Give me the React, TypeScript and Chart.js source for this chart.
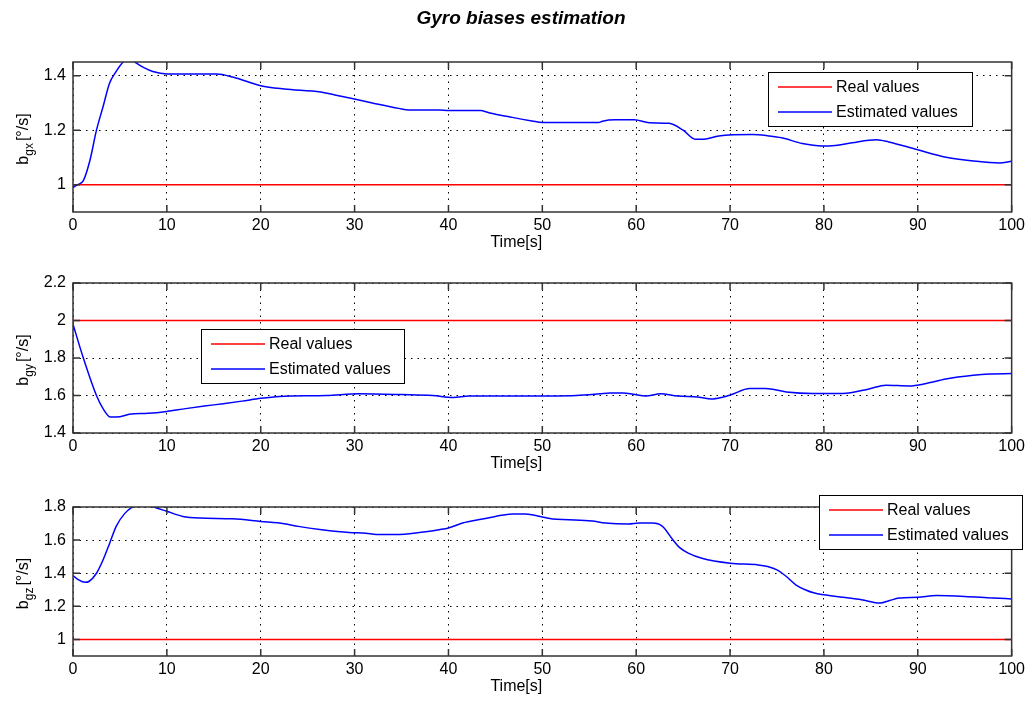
import React, { useEffect, useRef } from 'react';
import { Chart, registerables } from 'chart.js';

Chart.register(...registerables);

// ---------- DATA ----------
const chartTitle = 'Gyro biases estimation';
const xAxisLabel = 'Time[s]';
const legendLabels = ['Real values', 'Estimated values'];
const xTickValues = [0, 10, 20, 30, 40, 50, 60, 70, 80, 90, 100];

// Panel 1: b_gx
const gxTime = [0, 0.5, 1.1, 1.8, 2.5, 3.2, 3.9, 4.5, 5.4, 6.0, 6.7, 7.5, 8.5, 10, 12, 15.3, 17.1, 20, 22.5, 26.4, 27.8, 29.6, 32, 34.7, 35.8, 39, 40, 43.4, 44.3, 46.8, 48.9, 50, 56, 56.4, 57.8, 59.8, 61.4, 63.5, 65, 66.3, 67.2, 68.8, 72.4, 74.1, 75.5, 77.7, 79.8, 81.2, 83, 85.6, 86.9, 90, 93, 96.2, 98.7, 100];
const gxEstimated = [0.99, 1.0, 1.015, 1.089, 1.2, 1.286, 1.373, 1.41, 1.452, 1.46, 1.447, 1.43, 1.415, 1.406, 1.406, 1.406, 1.394, 1.363, 1.351, 1.34, 1.33, 1.317, 1.299, 1.28, 1.274, 1.274, 1.272, 1.272, 1.264, 1.247, 1.234, 1.228, 1.228, 1.233, 1.238, 1.238, 1.227, 1.225, 1.2, 1.167, 1.167, 1.179, 1.184, 1.179, 1.172, 1.151, 1.142, 1.144, 1.154, 1.165, 1.157, 1.128, 1.101, 1.086, 1.080, 1.086];
const gxReal = 1;
const gxYTicks = [1, 1.2, 1.4];
const gxYRange = [0.9, 1.45];

// Panel 2: b_gy
const gyTime = [0, 1.1, 2.5, 3.2, 4, 5, 6, 8, 10, 12, 15, 18, 20, 22, 27, 30.5, 35, 38.3, 40.5, 42.2, 48.6, 53.6, 56.1, 57.2, 58.6, 59.7, 61, 62.6, 64.4, 66.7, 68, 69.2, 70.1, 72.1, 73.8, 76, 78.8, 82, 84.8, 86.6, 89.1, 90.9, 93, 95.9, 97.6, 100];
const gyEstimated = [1.98, 1.8, 1.6, 1.53, 1.485, 1.487, 1.5, 1.505, 1.515, 1.53, 1.55, 1.57, 1.585, 1.595, 1.6, 1.609, 1.605, 1.6, 1.589, 1.597, 1.597, 1.6, 1.609, 1.614, 1.614, 1.607, 1.597, 1.609, 1.597, 1.591, 1.581, 1.591, 1.604, 1.637, 1.637, 1.619, 1.611, 1.611, 1.635, 1.655, 1.651, 1.664, 1.688, 1.708, 1.715, 1.717];
const gyReal = 2;
const gyYTicks = [1.4, 1.6, 1.8, 2, 2.2];
const gyYRange = [1.4, 2.2];

// Panel 3: b_gz
const gzTime = [0, 0.6, 1.3, 1.7, 2.5, 3.2, 3.9, 4.6, 5.5, 6.4, 8, 8.9, 10, 11.7, 13.5, 17, 20, 22.5, 24, 26.5, 29.4, 31.2, 32.3, 34.4, 36.9, 39, 40, 41.5, 43.6, 45, 46.8, 48.2, 50, 51.1, 52.8, 55.3, 56.7, 59.2, 60.3, 61.7, 62.8, 63.9, 64.6, 65.6, 67, 70, 73, 74, 75, 76, 77, 78, 79, 80, 82, 84, 86, 87, 88, 90, 92, 95, 98, 100];
const gzEstimated = [1.386, 1.36, 1.345, 1.35, 1.4, 1.48, 1.58, 1.683, 1.76, 1.8, 1.81, 1.794, 1.774, 1.743, 1.733, 1.729, 1.713, 1.699, 1.683, 1.663, 1.646, 1.642, 1.634, 1.634, 1.646, 1.663, 1.673, 1.703, 1.727, 1.743, 1.758, 1.758, 1.739, 1.727, 1.723, 1.715, 1.703, 1.697, 1.703, 1.703, 1.683, 1.602, 1.556, 1.52, 1.49, 1.46, 1.45, 1.44, 1.42, 1.38, 1.33, 1.3, 1.28, 1.27, 1.255, 1.24, 1.22, 1.235, 1.25, 1.255, 1.265, 1.26, 1.25, 1.245];
const gzReal = 1;
const gzYTicks = [1, 1.2, 1.4, 1.6, 1.8];
const gzYRange = [0.9, 1.8];

// ---------- STYLE ----------
const FONT = '"Liberation Sans", Arial, Helvetica, sans-serif';
const RED = '#ff0000';
const BLUE = '#0000ff';
const AXIS = '#333333';

type Panel = {
  sub: string;
  time: number[];
  est: number[];
  real: number;
  yTicks: number[];
  yRange: number[];
  top: number; // canvas top on page
  height: number; // canvas height
  padTop: number;
  plotH: number;
  legend: { x: number; y: number; w: number; h: number };
  title?: boolean;
};

const panels: Panel[] = [
  { sub: 'gx', time: gxTime, est: gxEstimated, real: gxReal, yTicks: gxYTicks, yRange: gxYRange, top: 0, height: 252, padTop: 62, plotH: 150, legend: { x: 768, y: 72, w: 204, h: 54 }, title: true },
  { sub: 'gy', time: gyTime, est: gyEstimated, real: gyReal, yTicks: gyYTicks, yRange: gyYRange, top: 252, height: 225, padTop: 31, plotH: 150, legend: { x: 201, y: 77, w: 203, h: 54 } },
  { sub: 'gz', time: gzTime, est: gzEstimated, real: gzReal, yTicks: gzYTicks, yRange: gzYRange, top: 477, height: 227, padTop: 30, plotH: 149, legend: { x: 819, y: 18, w: 203, h: 54 } },
];

function makeDecor(p: Panel) {
  return {
    id: 'decor' + p.sub,
    afterDatasetsDraw(chart: any) {
      const ctx = chart.ctx as CanvasRenderingContext2D;
      const a = chart.chartArea;
      const xs = chart.scales.x;
      const ys = chart.scales.y;
      ctx.save();
      // box
      ctx.strokeStyle = AXIS;
      ctx.lineWidth = 1.5;
      ctx.strokeRect(a.left, a.top, a.right - a.left, a.bottom - a.top);
      // inward ticks
      const tl = 7;
      ctx.beginPath();
      xs.ticks.forEach((t: any) => {
        const px = xs.getPixelForValue(t.value);
        ctx.moveTo(px, a.bottom);
        ctx.lineTo(px, a.bottom - tl);
        ctx.moveTo(px, a.top);
        ctx.lineTo(px, a.top + tl);
      });
      ys.ticks.forEach((t: any) => {
        const py = ys.getPixelForValue(t.value);
        ctx.moveTo(a.left, py);
        ctx.lineTo(a.left + tl, py);
        ctx.moveTo(a.right, py);
        ctx.lineTo(a.right - tl, py);
      });
      ctx.stroke();

      // legend
      const L = p.legend;
      ctx.fillStyle = '#ffffff';
      ctx.fillRect(L.x, L.y, L.w, L.h);
      ctx.strokeStyle = '#000000';
      ctx.lineWidth = 1;
      ctx.strokeRect(L.x + 0.5, L.y + 0.5, L.w, L.h);
      const rows = [L.y + 15, L.y + 40];
      const colors = [RED, BLUE];
      ctx.font = '16px ' + FONT;
      ctx.textBaseline = 'middle';
      ctx.textAlign = 'left';
      rows.forEach((ry, i) => {
        ctx.strokeStyle = colors[i];
        ctx.lineWidth = 1.5;
        ctx.beginPath();
        ctx.moveTo(L.x + 10, ry);
        ctx.lineTo(L.x + 64, ry);
        ctx.stroke();
        ctx.fillStyle = '#000';
        ctx.fillText(legendLabels[i], L.x + 68, ry + 1);
      });

      // x-axis label
      ctx.fillStyle = '#000';
      ctx.textAlign = 'center';
      ctx.textBaseline = 'middle';
      ctx.font = '16px ' + FONT;
      ctx.fillText(xAxisLabel, (a.left + a.right) / 2 - 26, a.bottom + 31);

      // y-axis label with subscript
      ctx.save();
      ctx.translate(28, (a.top + a.bottom) / 2 + 2);
      ctx.rotate(-Math.PI / 2);
      const f1 = '16px ' + FONT;
      const f2 = '12px ' + FONT;
      ctx.font = f1;
      const wb = ctx.measureText('b').width;
      const wu = ctx.measureText('[°/s]').width;
      ctx.font = f2;
      const ws = ctx.measureText(p.sub).width;
      let x = -(wb + ws + wu + 2) / 2;
      ctx.textAlign = 'left';
      ctx.textBaseline = 'alphabetic';
      ctx.font = f1;
      ctx.fillText('b', x, 0);
      x += wb;
      ctx.font = f2;
      ctx.fillText(p.sub, x, 5);
      x += ws + 2;
      ctx.font = f1;
      ctx.fillText('[°/s]', x, 0);
      ctx.restore();

      if (p.title) {
        ctx.font = 'italic bold 19px ' + FONT;
        ctx.textAlign = 'center';
        ctx.textBaseline = 'middle';
        ctx.fillStyle = '#000';
        ctx.fillText(chartTitle, 521, 19);
      }
      ctx.restore();
    },
  };
}

function PanelChart({ p }: { p: Panel }) {
  const ref = useRef<HTMLCanvasElement | null>(null);
  useEffect(() => {
    if (!ref.current) return;
    const est = p.time.map((t, i) => ({ x: t, y: p.est[i] }));
    const real = [
      { x: xTickValues[0], y: p.real },
      { x: xTickValues[xTickValues.length - 1], y: p.real },
    ];
    const xAxisH = p.height - p.padTop - p.plotH;
    const chart = new Chart(ref.current, {
      type: 'line',
      data: {
        datasets: [
          { label: legendLabels[1], data: est, borderColor: BLUE, borderWidth: 1.5, pointRadius: 0, cubicInterpolationMode: 'monotone', clip: 0, order: 0 } as any,
          { label: legendLabels[0], data: real, borderColor: RED, borderWidth: 1.5, pointRadius: 0, clip: 0, order: 1 } as any,
        ],
      },
      options: {
        responsive: false,
        animation: false,
        events: [],
        layout: { padding: { top: p.padTop, left: 0, right: 16, bottom: 0 } },
        plugins: { legend: { display: false }, tooltip: { enabled: false }, title: { display: false } },
        scales: {
          x: {
            type: 'linear',
            min: xTickValues[0],
            max: xTickValues[xTickValues.length - 1],
            afterBuildTicks: (s: any) => {
              s.ticks = xTickValues.map((v) => ({ value: v }));
            },
            afterFit: (s: any) => {
              s.height = xAxisH;
            },
            ticks: { color: '#000', font: { size: 16, family: FONT }, padding: 4, maxRotation: 0, autoSkip: false, callback: (v: any) => String(v) },
            grid: { color: '#000', lineWidth: 1, drawTicks: false },
            border: { display: false, dash: [1.5, 5] },
          },
          y: {
            type: 'linear',
            min: p.yRange[0],
            max: p.yRange[1],
            afterBuildTicks: (s: any) => {
              s.ticks = p.yTicks.map((v) => ({ value: v }));
            },
            afterFit: (s: any) => {
              s.width = 73;
            },
            ticks: { color: '#000', font: { size: 16, family: FONT }, padding: 7, autoSkip: false, callback: (v: any) => String(Math.round(v * 100) / 100) },
            grid: { color: '#000', lineWidth: 1, drawTicks: false },
            border: { display: false, dash: [1.5, 5] },
          },
        },
      } as any,
      plugins: [makeDecor(p)],
    });
    return () => chart.destroy();
  }, [p]);
  return (
    <canvas
      ref={ref}
      width={1029}
      height={p.height}
      style={{ position: 'absolute', left: 0, top: p.top, width: 1029, height: p.height, display: 'block' }}
    />
  );
}

export default function App() {
  return (
    <div style={{ position: 'fixed', left: 0, top: 0, width: 1029, height: 704, background: '#fff', overflow: 'hidden' }}>
      {panels.map((p) => (
        <PanelChart key={p.sub} p={p} />
      ))}
    </div>
  );
}
